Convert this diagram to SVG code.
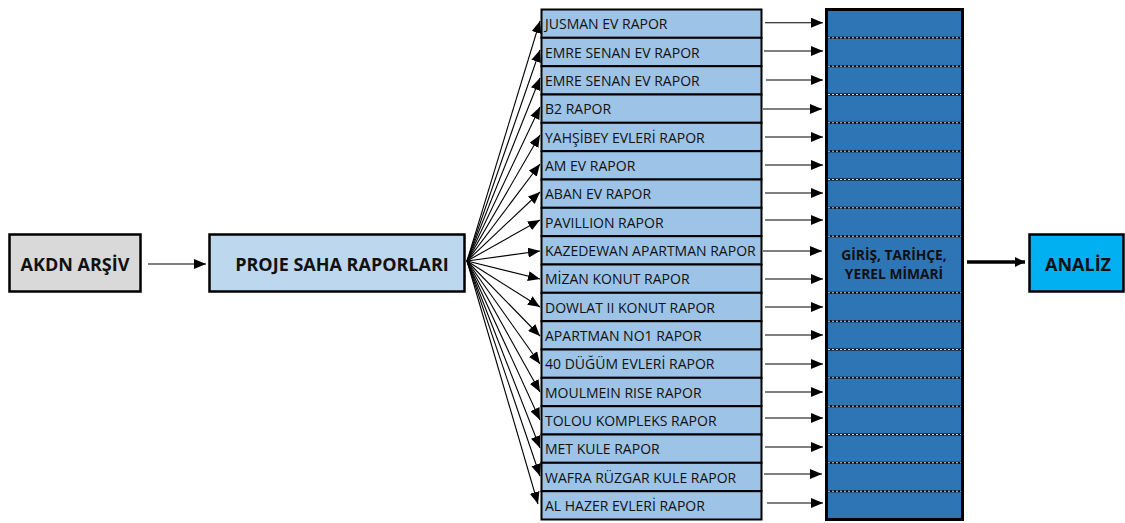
<svg xmlns="http://www.w3.org/2000/svg" width="1125" height="523" viewBox="0 0 1125 523">
<style>
.lbl{font-family:"Open Sans","Liberation Sans",sans-serif;font-size:14px;fill:#111}
.bx{font-family:"Open Sans","Liberation Sans",sans-serif;font-weight:bold;fill:#111;text-anchor:middle}
.row{fill:#9DC3E6;stroke:#000;stroke-width:2}
.ln{stroke:#000;stroke-width:1.1;fill:none}
.dash{stroke:#000;stroke-width:2}
.dot{stroke:#ddd;stroke-width:1;stroke-dasharray:2 2}
</style>
<defs>
<marker id="ah" markerUnits="userSpaceOnUse" markerWidth="12" markerHeight="10" refX="12" refY="5" orient="auto">
<path d="M0,0 L12,5 L0,10 Z" fill="#000"/>
</marker>
<marker id="ahb" markerUnits="userSpaceOnUse" markerWidth="10" markerHeight="10" refX="10" refY="5" orient="auto">
<path d="M0,0 L10,5 L0,10 Z" fill="#000"/>
</marker>
</defs>
<rect width="1125" height="523" fill="#fff"/>
<g id="akdn">
<rect x="9.5" y="234.5" width="131" height="57" fill="#D9D9D9" stroke="#000" stroke-width="2.5"/>
<text class="bx" x="75" y="270.5" font-size="18">AKDN ARŞİV</text>
</g>
<g id="proje">
<rect x="209.5" y="234.5" width="255" height="57" fill="#BDD7EE" stroke="#000" stroke-width="2.5"/>
<text class="bx" x="342" y="270.5" font-size="18">PROJE SAHA RAPORLARI</text>
</g>
<g id="analiz">
<rect x="1029.5" y="234.5" width="94" height="57" fill="#00B0F0" stroke="#000" stroke-width="2.5"/>
<text class="bx" x="1078" y="270.5" font-size="18">ANALİZ</text>
</g>
<g id="giris">
<rect x="826.5" y="9.5" width="136" height="510" fill="#2E75B6" stroke="#000" stroke-width="3"/>
<g>
<line class="dash" x1="828" x2="961" y1="37.8" y2="37.8"/><line class="dot" x1="828" x2="961" y1="37.8" y2="37.8"/>
<line class="dash" x1="828" x2="961" y1="66.2" y2="66.2"/><line class="dot" x1="828" x2="961" y1="66.2" y2="66.2"/>
<line class="dash" x1="828" x2="961" y1="94.5" y2="94.5"/><line class="dot" x1="828" x2="961" y1="94.5" y2="94.5"/>
<line class="dash" x1="828" x2="961" y1="122.8" y2="122.8"/><line class="dot" x1="828" x2="961" y1="122.8" y2="122.8"/>
<line class="dash" x1="828" x2="961" y1="151.2" y2="151.2"/><line class="dot" x1="828" x2="961" y1="151.2" y2="151.2"/>
<line class="dash" x1="828" x2="961" y1="179.5" y2="179.5"/><line class="dot" x1="828" x2="961" y1="179.5" y2="179.5"/>
<line class="dash" x1="828" x2="961" y1="207.8" y2="207.8"/><line class="dot" x1="828" x2="961" y1="207.8" y2="207.8"/>
<line class="dash" x1="828" x2="961" y1="236.2" y2="236.2"/><line class="dot" x1="828" x2="961" y1="236.2" y2="236.2"/>
<line class="dash" x1="828" x2="961" y1="292.8" y2="292.8"/><line class="dot" x1="828" x2="961" y1="292.8" y2="292.8"/>
<line class="dash" x1="828" x2="961" y1="321.2" y2="321.2"/><line class="dot" x1="828" x2="961" y1="321.2" y2="321.2"/>
<line class="dash" x1="828" x2="961" y1="349.5" y2="349.5"/><line class="dot" x1="828" x2="961" y1="349.5" y2="349.5"/>
<line class="dash" x1="828" x2="961" y1="377.8" y2="377.8"/><line class="dot" x1="828" x2="961" y1="377.8" y2="377.8"/>
<line class="dash" x1="828" x2="961" y1="406.2" y2="406.2"/><line class="dot" x1="828" x2="961" y1="406.2" y2="406.2"/>
<line class="dash" x1="828" x2="961" y1="434.5" y2="434.5"/><line class="dot" x1="828" x2="961" y1="434.5" y2="434.5"/>
<line class="dash" x1="828" x2="961" y1="462.8" y2="462.8"/><line class="dot" x1="828" x2="961" y1="462.8" y2="462.8"/>
<line class="dash" x1="828" x2="961" y1="491.2" y2="491.2"/><line class="dot" x1="828" x2="961" y1="491.2" y2="491.2"/>
</g>
<text class="bx" x="894" y="259.5" font-size="13.8">GİRİŞ, TARİHÇE,</text>
<text class="bx" x="894" y="278.5" font-size="13.8">YEREL MİMARİ</text>
</g>
<g id="reports">
<g id="r1"><rect class="row" x="541.5" y="9.5" width="220" height="28.3"/><text class="lbl" x="545" y="29">JUSMAN EV RAPOR</text></g>
<g id="r2"><rect class="row" x="541.5" y="37.8" width="220" height="28.3"/><text class="lbl" x="545" y="57.5">EMRE SENAN EV RAPOR</text></g>
<g id="r3"><rect class="row" x="541.5" y="66.2" width="220" height="28.3"/><text class="lbl" x="545" y="85.8">EMRE SENAN EV RAPOR</text></g>
<g id="r4"><rect class="row" x="541.5" y="94.5" width="220" height="28.3"/><text class="lbl" x="545" y="114.2">B2 RAPOR</text></g>
<g id="r5"><rect class="row" x="541.5" y="122.8" width="220" height="28.3"/><text class="lbl" x="545" y="142.5">YAHŞİBEY EVLERİ RAPOR</text></g>
<g id="r6"><rect class="row" x="541.5" y="151.2" width="220" height="28.3"/><text class="lbl" x="545" y="170.8">AM EV RAPOR</text></g>
<g id="r7"><rect class="row" x="541.5" y="179.5" width="220" height="28.3"/><text class="lbl" x="545" y="199.2">ABAN EV RAPOR</text></g>
<g id="r8"><rect class="row" x="541.5" y="207.8" width="220" height="28.3"/><text class="lbl" x="545" y="227.5">PAVILLION RAPOR</text></g>
<g id="r9"><rect class="row" x="541.5" y="236.2" width="220" height="28.3"/><text class="lbl" x="545" y="255.8">KAZEDEWAN APARTMAN RAPOR</text></g>
<g id="r10"><rect class="row" x="541.5" y="264.5" width="220" height="28.3"/><text class="lbl" x="545" y="284.2">MİZAN KONUT RAPOR</text></g>
<g id="r11"><rect class="row" x="541.5" y="292.8" width="220" height="28.3"/><text class="lbl" x="545" y="312.5">DOWLAT II KONUT RAPOR</text></g>
<g id="r12"><rect class="row" x="541.5" y="321.2" width="220" height="28.3"/><text class="lbl" x="545" y="340.8">APARTMAN NO1 RAPOR</text></g>
<g id="r13"><rect class="row" x="541.5" y="349.5" width="220" height="28.3"/><text class="lbl" x="545" y="369.2">40 DÜĞÜM EVLERİ RAPOR</text></g>
<g id="r14"><rect class="row" x="541.5" y="377.8" width="220" height="28.3"/><text class="lbl" x="545" y="397.5">MOULMEIN RISE RAPOR</text></g>
<g id="r15"><rect class="row" x="541.5" y="406.2" width="220" height="28.3"/><text class="lbl" x="545" y="425.8">TOLOU KOMPLEKS RAPOR</text></g>
<g id="r16"><rect class="row" x="541.5" y="434.5" width="220" height="28.3"/><text class="lbl" x="545" y="454.2">MET KULE RAPOR</text></g>
<g id="r17"><rect class="row" x="541.5" y="462.8" width="220" height="28.3"/><text class="lbl" x="545" y="482.5">WAFRA RÜZGAR KULE RAPOR</text></g>
<g id="r18"><rect class="row" x="541.5" y="491.2" width="220" height="28.3"/><text class="lbl" x="545" y="510.8">AL HAZER EVLERİ RAPOR</text></g>
</g>
<g id="connectors">
<line class="ln" x1="148" y1="264" x2="206" y2="264" marker-end="url(#ah)"/>
<line x1="967" y1="262" x2="1025" y2="262" stroke="#000" stroke-width="3.5" marker-end="url(#ahb)"/>
<g>
<line class="ln" x1="467" y1="261" x2="540" y2="21" marker-end="url(#ah)"/>
<line class="ln" x1="467" y1="261" x2="540" y2="50" marker-end="url(#ah)"/>
<line class="ln" x1="467" y1="261" x2="540" y2="78" marker-end="url(#ah)"/>
<line class="ln" x1="467" y1="261" x2="540" y2="107" marker-end="url(#ah)"/>
<line class="ln" x1="467" y1="261" x2="540" y2="135" marker-end="url(#ah)"/>
<line class="ln" x1="467" y1="261" x2="540" y2="164" marker-end="url(#ah)"/>
<line class="ln" x1="467" y1="261" x2="540" y2="192" marker-end="url(#ah)"/>
<line class="ln" x1="467" y1="261" x2="540" y2="220" marker-end="url(#ah)"/>
<line class="ln" x1="467" y1="261" x2="540" y2="251" marker-end="url(#ah)"/>
<line class="ln" x1="467" y1="261" x2="540" y2="279" marker-end="url(#ah)"/>
<line class="ln" x1="467" y1="261" x2="540" y2="307" marker-end="url(#ah)"/>
<line class="ln" x1="467" y1="261" x2="540" y2="336" marker-end="url(#ah)"/>
<line class="ln" x1="467" y1="261" x2="540" y2="364" marker-end="url(#ah)"/>
<line class="ln" x1="467" y1="261" x2="540" y2="392" marker-end="url(#ah)"/>
<line class="ln" x1="467" y1="261" x2="540" y2="420" marker-end="url(#ah)"/>
<line class="ln" x1="467" y1="261" x2="540" y2="448" marker-end="url(#ah)"/>
<line class="ln" x1="467" y1="261" x2="540" y2="476" marker-end="url(#ah)"/>
<line class="ln" x1="467" y1="261" x2="538" y2="504" marker-end="url(#ah)"/>
</g>
<g>
<line class="ln" x1="765" y1="22.7" x2="823" y2="22.7" marker-end="url(#ah)"/>
<line class="ln" x1="764" y1="51" x2="823" y2="51" marker-end="url(#ah)"/>
<line class="ln" x1="766" y1="80" x2="823" y2="80" marker-end="url(#ah)"/>
<line class="ln" x1="763" y1="109" x2="822" y2="109" marker-end="url(#ah)"/>
<line class="ln" x1="765" y1="137" x2="823" y2="137" marker-end="url(#ah)"/>
<line class="ln" x1="765" y1="165" x2="823" y2="165" marker-end="url(#ah)"/>
<line class="ln" x1="765" y1="193" x2="823" y2="193" marker-end="url(#ah)"/>
<line class="ln" x1="765" y1="220" x2="823" y2="220" marker-end="url(#ah)"/>
<line class="ln" x1="763" y1="251" x2="822" y2="251" marker-end="url(#ah)"/>
<line class="ln" x1="765" y1="279" x2="823" y2="279" marker-end="url(#ah)"/>
<line class="ln" x1="765" y1="307" x2="823" y2="307" marker-end="url(#ah)"/>
<line class="ln" x1="765" y1="335" x2="823" y2="335" marker-end="url(#ah)"/>
<line class="ln" x1="765" y1="364" x2="823" y2="364" marker-end="url(#ah)"/>
<line class="ln" x1="765" y1="392" x2="823" y2="392" marker-end="url(#ah)"/>
<line class="ln" x1="765" y1="418" x2="823" y2="418" marker-end="url(#ah)"/>
<line class="ln" x1="765" y1="447" x2="823" y2="447" marker-end="url(#ah)"/>
<line class="ln" x1="764" y1="474" x2="822" y2="474" marker-end="url(#ah)"/>
<line class="ln" x1="767" y1="503" x2="823" y2="503" marker-end="url(#ah)"/>
</g>
</g>
</svg>
